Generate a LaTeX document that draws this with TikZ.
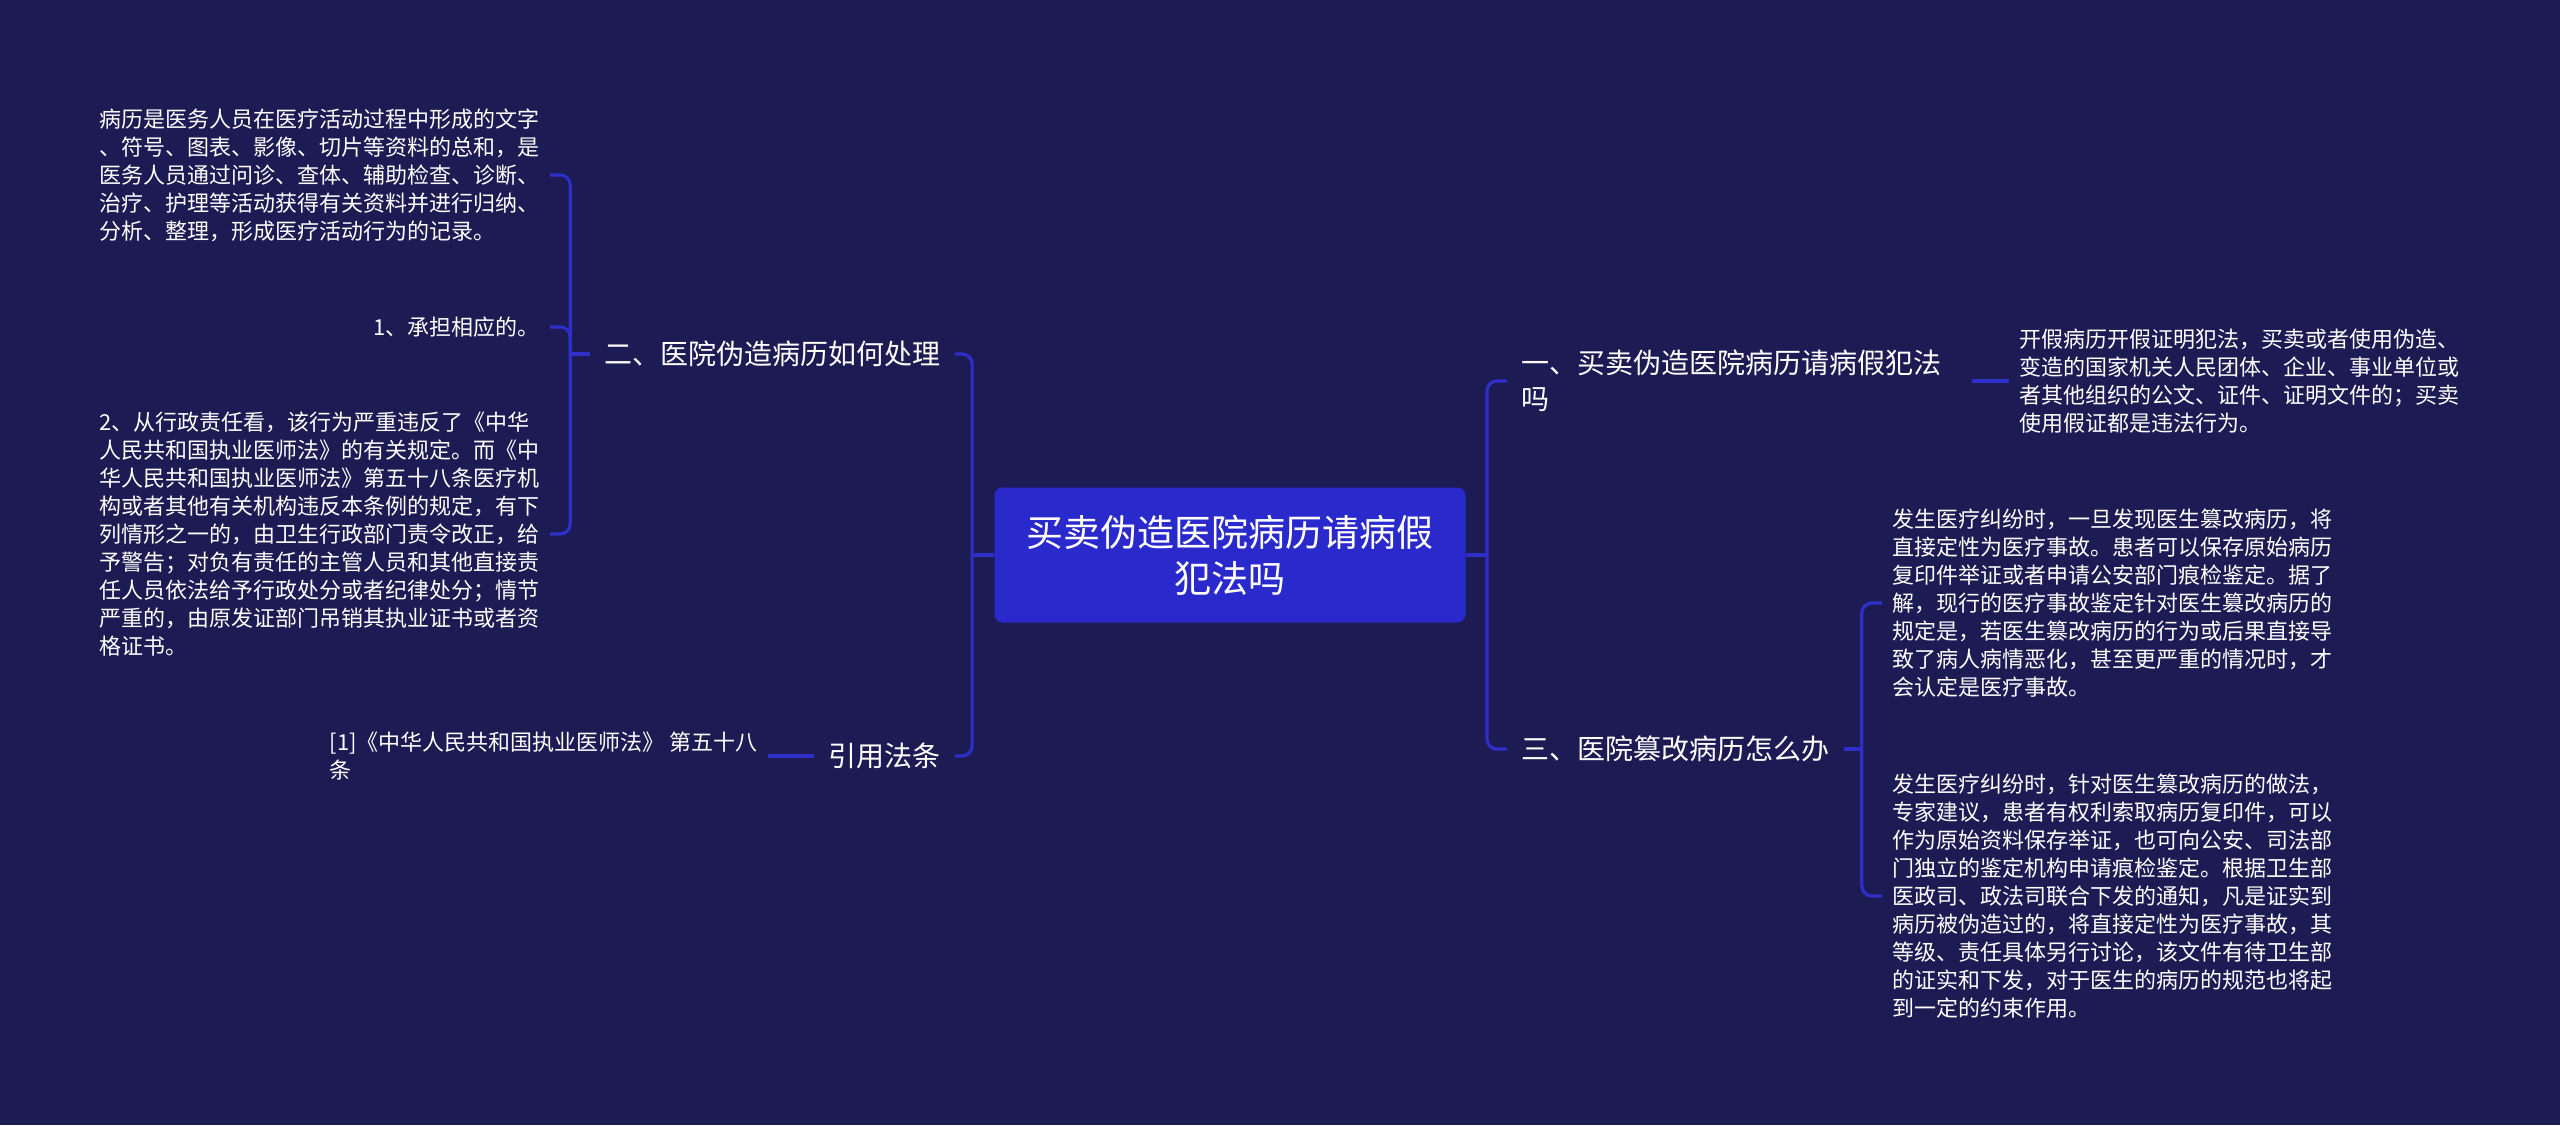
\documentclass[tikz,border=0pt]{standalone}
\usepackage{fontspec}
\setmainfont{Noto Sans CJK SC}
\usepackage{tikz}
\usetikzlibrary{calc}

\definecolor{bgnavy}{RGB}{28,27,84}
\definecolor{rootblue}{RGB}{42,42,204}
\definecolor{linkblue}{RGB}{46,46,200}

\begin{document}
\begin{tikzpicture}[
  x=0.5pt, y=-0.5pt,
  rootbox/.style={rectangle, fill=rootblue, rounded corners=4pt, minimum width=235.5pt,
                  minimum height=67.5pt, align=center, text=white,
                  font=\fontsize{18.5}{23}\selectfont},
  branch/.style={inner xsep=7pt, inner ysep=2pt, align=left, text=white,
                 font=\fontsize{14}{18}\selectfont},
  leaf/.style={inner xsep=5pt, inner ysep=2pt, align=left, text=white,
               font=\fontsize{11}{14}\selectfont},
  link/.style={draw=linkblue, line width=1.6pt},
  elbow/.style={link, rounded corners=5pt}
]
\fill[bgnavy] (0,0) rectangle (2560,1125);

\node[rootbox] (root) at (1230,555) {买卖伪造医院病历请病假\\犯法吗};

\node[branch, anchor=east] (b2) at (955,354) {二、医院伪造病历如何处理};
\node[branch, anchor=east] (b4) at (955,756) {引用法条};
\node[branch, anchor=west, text width=218pt] (b1) at (1507,381) {一、买卖伪造医院病历请病假犯法\\吗};
\node[branch, anchor=west] (b3) at (1507,749) {三、医院篡改病历怎么办};

\node[leaf, anchor=east] (l1) at (550,175) {病历是医务人员在医疗活动过程中形成的文字\\
、符号、图表、影像、切片等资料的总和，是\\
医务人员通过问诊、查体、辅助检查、诊断、\\
治疗、护理等活动获得有关资料并进行归纳、\\
分析、整理，形成医疗活动行为的记录。};
\node[leaf, anchor=east] (l2) at (550,327) {1、承担相应的。};
\node[leaf, anchor=east] (l3) at (550,534) {2、从行政责任看，该行为严重违反了《中华\\
人民共和国执业医师法》的有关规定。而《中\\
华人民共和国执业医师法》第五十八条医疗机\\
构或者其他有关机构违反本条例的规定，有下\\
列情形之一的，由卫生行政部门责令改正，给\\
予警告；对负有责任的主管人员和其他直接责\\
任人员依法给予行政处分或者纪律处分；情节\\
严重的，由原发证部门吊销其执业证书或者资\\
格证书。};
\node[leaf, anchor=east] (l4) at (768,756) {{[1]}《中华人民共和国执业医师法》 第五十八\\条};

\node[leaf, anchor=west] (r1) at (2009,381) {开假病历开假证明犯法，买卖或者使用伪造、\\
变造的国家机关人民团体、企业、事业单位或\\
者其他组织的公文、证件、证明文件的；买卖\\
使用假证都是违法行为。};
\node[leaf, anchor=west] (r2) at (1882,603) {发生医疗纠纷时，一旦发现医生篡改病历，将\\
直接定性为医疗事故。患者可以保存原始病历\\
复印件举证或者申请公安部门痕检鉴定。据了\\
解，现行的医疗事故鉴定针对医生篡改病历的\\
规定是，若医生篡改病历的行为或后果直接导\\
致了病人病情恶化，甚至更严重的情况时，才\\
会认定是医疗事故。};
\node[leaf, anchor=west] (r3) at (1882,896) {发生医疗纠纷时，针对医生篡改病历的做法，\\
专家建议，患者有权利索取病历复印件，可以\\
作为原始资料保存举证，也可向公安、司法部\\
门独立的鉴定机构申请痕检鉴定。根据卫生部\\
医政司、政法司联合下发的通知，凡是证实到\\
病历被伪造过的，将直接定性为医疗事故，其\\
等级、责任具体另行讨论，该文件有待卫生部\\
的证实和下发，对于医生的病历的规范也将起\\
到一定的约束作用。};

\coordinate (lj) at ($(root.west)+(-22,0)$);
\coordinate (rj) at ($(root.east)+(21,0)$);
\coordinate (lj2) at ($(b2.west)+(-20,0)$);
\coordinate (rj3) at ($(b3.east)+(18,0)$);

\draw[link] (root.west) -- (lj);
\draw[elbow] (lj) |- (b2.east);
\draw[elbow] (lj) |- (b4.east);
\draw[link] (root.east) -- (rj);
\draw[elbow] (rj) |- (b1.west);
\draw[elbow] (rj) |- (b3.west);

\draw[link] (b2.west) -- (lj2);
\draw[elbow] (lj2) |- (l1.east);
\draw[elbow] (lj2) |- (l2.east);
\draw[elbow] (lj2) |- (l3.east);
\draw[link] (b4.west) -- (l4.east);

\draw[link] (b1.east) -- (r1.west);
\draw[link] (b3.east) -- (rj3);
\draw[elbow] (rj3) |- (r2.west);
\draw[elbow] (rj3) |- (r3.west);
\end{tikzpicture}
\end{document}
